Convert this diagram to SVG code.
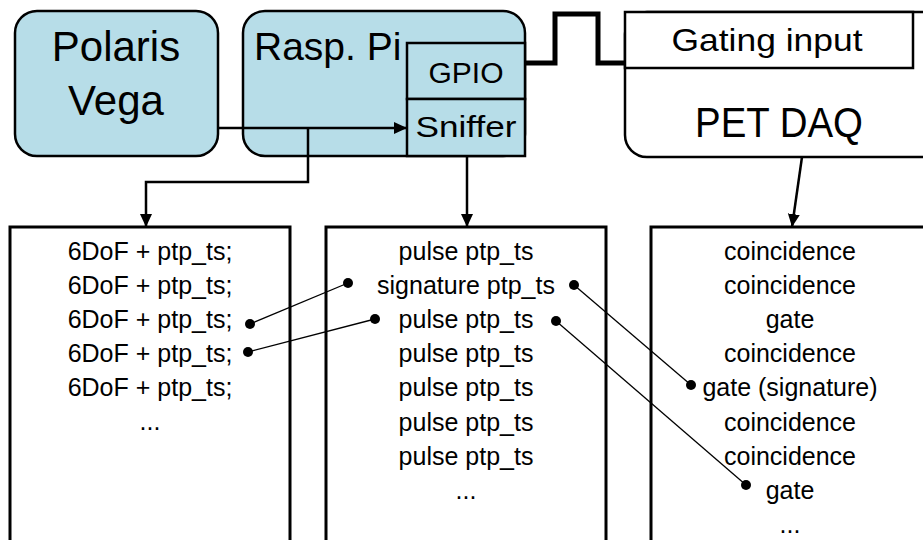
<svg xmlns="http://www.w3.org/2000/svg" width="923" height="540" viewBox="0 0 923 540">
<defs>
<style>
.t{font-family:"Liberation Sans",Arial,sans-serif;fill:#000;text-anchor:middle}
.box{fill:#b7dde8;stroke:#000;stroke-width:2.5}
.wbox{fill:#fff;stroke:#000;stroke-width:2.5}
.lst{fill:#fff;stroke:#000;stroke-width:3}
.row{font-size:25px}
.con{fill:none;stroke:#000;stroke-width:2.5}
.thin{fill:none;stroke:#000;stroke-width:1.3}
.dot{fill:#000}
</style>
<marker id="arr" markerUnits="userSpaceOnUse" markerWidth="14" markerHeight="14" viewBox="0 0 14 14" refX="13" refY="7" orient="auto">
<path d="M0,1 L13,7 L0,13 Z" fill="#000"/>
</marker>
</defs>
<rect width="923" height="540" fill="#fff"/>

<g id="polaris">
<rect class="box" x="15" y="11" width="203" height="145" rx="22"/>
<text class="t" x="116" y="61" font-size="42">Polaris</text>
<text class="t" x="116" y="115" font-size="42">Vega</text>
</g>

<g id="rasppi">
<rect class="box" x="243" y="11" width="282" height="145" rx="22"/>
<text class="t" x="254" y="60" font-size="39" style="text-anchor:start">Rasp. Pi</text>
</g>

<g id="gpio">
<rect class="box" x="407" y="43" width="118" height="56"/>
<text class="t" x="466" y="83" font-size="30">GPIO</text>
</g>

<g id="sniffer">
<rect class="box" x="407" y="99" width="118" height="57"/>
<text class="t" x="466" y="137" font-size="30" textLength="101" lengthAdjust="spacingAndGlyphs">Sniffer</text>
</g>

<g id="petdaq">
<rect class="wbox" x="625" y="12" width="320" height="145" rx="22"/>
<text class="t" x="779" y="137" font-size="42" textLength="168" lengthAdjust="spacingAndGlyphs">PET DAQ</text>
</g>

<g id="gating">
<rect class="wbox" x="625" y="12" width="288" height="56"/>
<text class="t" x="767" y="51" font-size="32" textLength="191" lengthAdjust="spacingAndGlyphs">Gating input</text>
</g>

<g id="list-6dof">
<rect class="lst" x="10" y="227" width="280" height="340"/>
<text class="t row" x="150" y="260">6DoF + ptp_ts;</text>
<text class="t row" x="150" y="294">6DoF + ptp_ts;</text>
<text class="t row" x="150" y="328">6DoF + ptp_ts;</text>
<text class="t row" x="150" y="362">6DoF + ptp_ts;</text>
<text class="t row" x="150" y="396">6DoF + ptp_ts;</text>
<text class="t row" x="150" y="430">...</text>
</g>

<g id="list-pulse">
<rect class="lst" x="326" y="227" width="280" height="340"/>
<text class="t row" x="466" y="260">pulse ptp_ts</text>
<text class="t row" x="466" y="294">signature ptp_ts</text>
<text class="t row" x="466" y="328">pulse ptp_ts</text>
<text class="t row" x="466" y="362">pulse ptp_ts</text>
<text class="t row" x="466" y="396">pulse ptp_ts</text>
<text class="t row" x="466" y="431">pulse ptp_ts</text>
<text class="t row" x="466" y="465">pulse ptp_ts</text>
<text class="t row" x="466" y="499">...</text>
</g>

<g id="list-pet">
<rect class="lst" x="651" y="227" width="300" height="340"/>
<text class="t row" x="790" y="260">coincidence</text>
<text class="t row" x="790" y="294">coincidence</text>
<text class="t row" x="790" y="328">gate</text>
<text class="t row" x="790" y="362">coincidence</text>
<text class="t row" x="790" y="396">gate (signature)</text>
<text class="t row" x="790" y="431">coincidence</text>
<text class="t row" x="790" y="465">coincidence</text>
<text class="t row" x="790" y="499">gate</text>
<text class="t row" x="790" y="533">...</text>
</g>

<g id="connectors">
<line class="con" x1="218" y1="128" x2="407" y2="128" marker-end="url(#arr)"/>
<polyline class="con" points="308,128 308,182 146,182 146,227" marker-end="url(#arr)"/>
<line class="con" x1="467" y1="156" x2="467" y2="227" marker-end="url(#arr)"/>
<line class="con" x1="802" y1="157" x2="792" y2="227" marker-end="url(#arr)"/>
<polyline fill="none" stroke="#000" stroke-width="5" stroke-linejoin="miter" points="525,63 555,63 555,14 598,14 598,63 625,63"/>
<line class="thin" x1="250" y1="324" x2="348" y2="283"/>
<line class="thin" x1="248" y1="352" x2="375" y2="319"/>
<line class="thin" x1="574" y1="285" x2="691" y2="385"/>
<line class="thin" x1="556" y1="321" x2="746" y2="485"/>
<circle class="dot" cx="250" cy="324" r="5"/>
<circle class="dot" cx="348" cy="283" r="5"/>
<circle class="dot" cx="248" cy="352" r="5"/>
<circle class="dot" cx="375" cy="319" r="5"/>
<circle class="dot" cx="574" cy="285" r="5"/>
<circle class="dot" cx="691" cy="385" r="5"/>
<circle class="dot" cx="556" cy="321" r="5"/>
<circle class="dot" cx="746" cy="485" r="5"/>
</g>
</svg>
